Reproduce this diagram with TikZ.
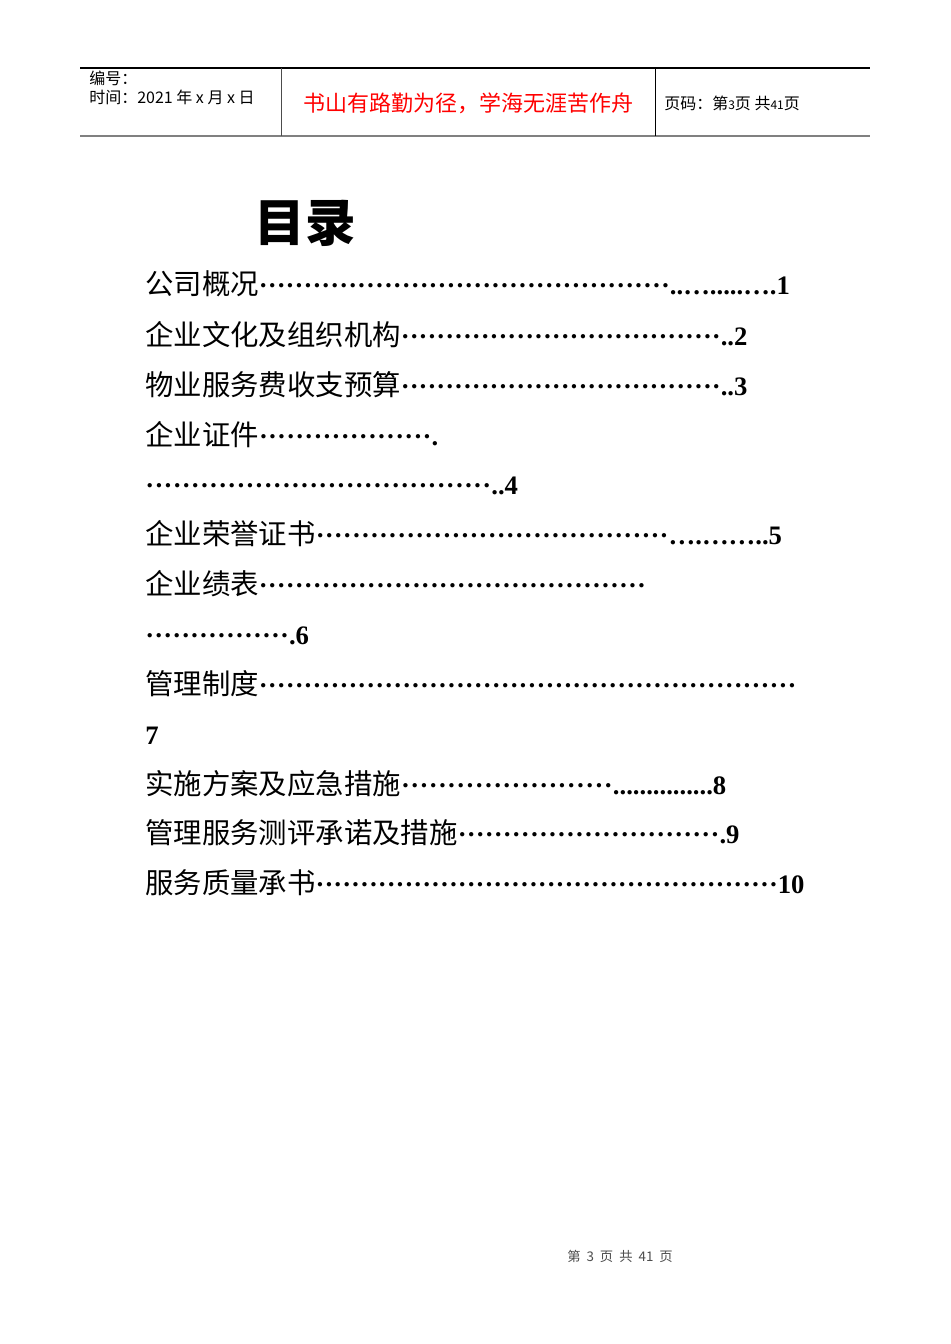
\documentclass[tikz,border=0pt]{standalone}
\usepackage{fontspec}
\setmainfont{Liberation Serif}
\newfontfamily\cjk{Noto Sans CJK SC}
\newcommand{\tl}[3]{\hbox to #2pt{{\cjk\fontsize{21.3}{21}\selectfont #1}\xleaders\hbox{\bfseries ·}\hfill\textbf{#3}}}
\newcommand{\dl}[2]{\hbox to #1pt{\xleaders\hbox{\bfseries ·}\hfill\textbf{#2}}}
\begin{document}
\begin{tikzpicture}[x=0.75pt,y=-0.75pt,
  toc/.style={anchor=base west,inner sep=0pt,font=\fontsize{20}{20}\selectfont},
  hd/.style={inner sep=0pt,font=\cjk\fontsize{12}{14}\selectfont}]
\fill[white] (0,0) rectangle (950,1344);
\draw[line width=0.8pt] (80,68) -- (870,68);
\draw[gray,line width=1.2pt] (80,136) -- (870,136);
\draw[gray!60!black] (281,68) -- (281,136);
\draw (655,68) -- (655,136);
\node[hd,anchor=north west] (h1) at (89,71) {编号：};
\node[hd,anchor=north west] (h2) at (89,90) {时间：2021 年 x 月 x 日};
\node[inner sep=0pt,text=red,font=\cjk\fontsize{16.5}{18}\selectfont] (h3) at (468,103) {书山有路勤为径，学海无涯苦作舟};
\node[hd,anchor=west] (h4) at (664,103) {页码：第{\small 3}页 共{\small 41}页};
\node[inner sep=0pt,font=\cjk\bfseries\fontsize{38}{40}\selectfont] (t) at (305,223) {目录};
\node[toc] (l1) at (145,295) {\tl{公司概况}{484}{..….....….1}};
\node[toc] (l2) at (145,345) {\tl{企业文化及组织机构}{452}{..2}};
\node[toc] (l3) at (145,395) {\tl{物业服务费收支预算}{452}{..3}};
\node[toc] (l4) at (145,445) {\tl{企业证件}{220}{.}};
\node[toc] (l5) at (145,494) {\dl{280}{..4}};
\node[toc] (l6) at (145,544) {\tl{企业荣誉证书}{478}{….……..5}};
\node[toc] (l7) at (145,594) {\tl{企业绩表}{376}{}};
\node[toc] (l8) at (145,644) {\dl{123}{.6}};
\node[toc] (l9) at (145,694) {\tl{管理制度}{489}{}};
\node[toc] (l10) at (145,744) {\textbf{7}};
\node[toc] (l11) at (145,794) {\tl{实施方案及应急措施}{436}{...............8}};
\node[toc] (l12) at (145,843) {\tl{管理服务测评承诺及措施}{446}{.9}};
\node[toc] (l13) at (145,893) {\tl{服务质量承书}{495}{10}};
\node[inner sep=0pt,text=gray!60!black,font=\cjk\fontsize{10}{12}\selectfont] (f) at (620,1256) {第 \ 3 \ 页 \ 共 \ 41 \ 页};
\end{tikzpicture}
\end{document}
